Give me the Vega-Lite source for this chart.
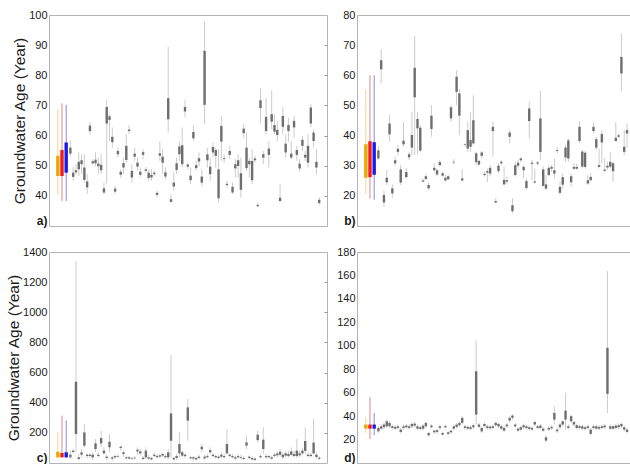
{
"$schema": "https://vega.github.io/schema/vega-lite/v6.json",
"padding": {"left": 6, "top": 8, "right": 0, "bottom": 0},
"background": "white",
"config": {
  "view": {"stroke": "#b4b4b4", "strokeWidth": 1},
  "axis": {"grid": false, "domain": false, "ticks": false, "labelOverlap": false, "labelBound": false, "labelFlush": false, "labelFont": "Liberation Sans", "labelFontSize": 11, "labelColor": "#1a1a1a", "labelPadding": 2, "titleFont": "Liberation Sans", "titleFontSize": 15.5, "titleFontWeight": "normal", "titleColor": "#1a1a1a", "titlePadding": 1}
},
"datasets": {
"a": [
{"i":-3.5,"lo":40.5,"q1":46.6,"q3":53.3,"hi":68.7,"g":"o"},
{"i":-2,"lo":38.3,"q1":46.6,"q3":55.2,"hi":70.7,"g":"r"},
{"i":-0.5,"lo":38.3,"q1":47.7,"q3":57.7,"hi":70.2,"g":"b"},
{"i":1,"lo":53,"q1":54,"q3":56,"hi":58.4,"g":"s"},
{"i":2,"lo":45,"q1":46.3,"q3":47.7,"hi":49.6,"g":"s"},
{"i":3,"lo":47.2,"q1":47.8,"q3":48.5,"hi":50.5,"g":"s"},
{"i":4,"lo":46.6,"q1":48.8,"q3":51.3,"hi":54.4,"g":"s"},
{"i":5,"lo":47.2,"q1":50.5,"q3":51.8,"hi":53.8,"g":"s"},
{"i":6,"lo":44.4,"q1":45.3,"q3":49.4,"hi":53.8,"g":"s"},
{"i":7,"lo":40.6,"q1":42.8,"q3":44.8,"hi":47.2,"g":"s"},
{"i":8,"lo":60.4,"q1":61.5,"q3":63.3,"hi":64.6,"g":"s"},
{"i":9,"lo":50.3,"q1":50.8,"q3":51.5,"hi":52.2,"g":"s"},
{"i":10,"lo":49.9,"q1":50.8,"q3":52,"hi":54.4,"g":"s"},
{"i":11,"lo":47.2,"q1":49.8,"q3":50.7,"hi":52.7,"g":"s"},
{"i":12,"lo":47.2,"q1":48.5,"q3":50.3,"hi":53.8,"g":"s"},
{"i":13,"lo":40.6,"q1":41.1,"q3":42.5,"hi":44.4,"g":"s"},
{"i":14,"lo":44,"q1":64,"q3":69.5,"hi":72,"g":"s"},
{"i":15,"lo":58.2,"q1":65.2,"q3":66.4,"hi":67.1,"g":"s"},
{"i":16,"lo":56,"q1":57.8,"q3":59.6,"hi":62.7,"g":"s"},
{"i":17,"lo":40.6,"q1":41.4,"q3":42.4,"hi":43.3,"g":"s"},
{"i":18,"lo":52.7,"q1":53.8,"q3":54.9,"hi":56,"g":"s"},
{"i":19,"lo":46.1,"q1":47,"q3":48,"hi":48.8,"g":"s"},
{"i":20,"lo":47.2,"q1":49.4,"q3":50.9,"hi":52.7,"g":"s"},
{"i":21,"lo":51,"q1":51.9,"q3":56.6,"hi":60.4,"g":"s"},
{"i":22,"lo":60.5,"q1":61.5,"q3":62,"hi":63.5,"g":"s"},
{"i":23,"lo":44.4,"q1":46.1,"q3":48.3,"hi":50.5,"g":"s"},
{"i":24,"lo":51.6,"q1":53,"q3":54,"hi":56,"g":"s"},
{"i":25,"lo":48.3,"q1":49.7,"q3":51,"hi":52.7,"g":"s"},
{"i":26,"lo":46.1,"q1":47,"q3":48,"hi":49.4,"g":"s"},
{"i":27,"lo":52.2,"q1":53.6,"q3":54.5,"hi":55.5,"g":"s"},
{"i":28,"lo":47.7,"q1":48.3,"q3":48.8,"hi":49.7,"g":"s"},
{"i":29,"lo":45,"q1":45.9,"q3":47.7,"hi":48.8,"g":"s"},
{"i":30,"lo":45,"q1":46.1,"q3":47,"hi":48.8,"g":"s"},
{"i":31,"lo":46.6,"q1":47.2,"q3":47.7,"hi":48.3,"g":"s"},
{"i":32,"lo":39.4,"q1":40.3,"q3":41,"hi":41.7,"g":"s"},
{"i":33,"lo":51.6,"q1":53.3,"q3":54.1,"hi":58.2,"g":"s"},
{"i":34,"lo":47.2,"q1":51,"q3":53,"hi":55.5,"g":"s"},
{"i":35,"lo":45.5,"q1":46.4,"q3":47.8,"hi":49.4,"g":"s"},
{"i":36,"lo":61,"q1":65.4,"q3":72.4,"hi":89.4,"g":"s"},
{"i":37,"lo":37.8,"q1":38,"q3":38.9,"hi":40.6,"g":"s"},
{"i":38,"lo":41.7,"q1":43.1,"q3":44.4,"hi":47.7,"g":"s"},
{"i":39,"lo":47.2,"q1":48.6,"q3":50.8,"hi":52.7,"g":"s"},
{"i":40,"lo":51.6,"q1":53.8,"q3":56.4,"hi":58.2,"g":"s"},
{"i":41,"lo":49.4,"q1":50.5,"q3":56.8,"hi":62.7,"g":"s"},
{"i":42,"lo":66,"q1":68,"q3":69.5,"hi":72,"g":"s"},
{"i":43,"lo":48.8,"q1":49.7,"q3":50.4,"hi":51,"g":"s"},
{"i":44,"lo":43.9,"q1":45.2,"q3":46.7,"hi":49.4,"g":"s"},
{"i":45,"lo":58.2,"q1":59.1,"q3":61.2,"hi":63.4,"g":"s"},
{"i":46,"lo":48.3,"q1":49.2,"q3":50.2,"hi":51.6,"g":"s"},
{"i":47,"lo":49.9,"q1":51.4,"q3":52.5,"hi":54.4,"g":"s"},
{"i":48,"lo":43.3,"q1":44.4,"q3":46.4,"hi":48.8,"g":"s"},
{"i":49,"lo":63.8,"q1":70.2,"q3":88.1,"hi":97.8,"g":"s"},
{"i":50,"lo":49.4,"q1":51.8,"q3":53.8,"hi":56,"g":"s"},
{"i":51,"lo":45,"q1":47.2,"q3":49.7,"hi":52.7,"g":"s"},
{"i":52,"lo":52.7,"q1":54.4,"q3":56.2,"hi":57.7,"g":"s"},
{"i":53,"lo":49.4,"q1":53.3,"q3":55.2,"hi":56,"g":"s"},
{"i":54,"lo":37.8,"q1":39.2,"q3":48.8,"hi":55.5,"g":"s"},
{"i":55,"lo":51.6,"q1":58,"q3":63.2,"hi":66.5,"g":"s"},
{"i":56,"lo":51,"q1":52.2,"q3":52.5,"hi":53.8,"g":"s"},
{"i":57,"lo":42.8,"q1":43.6,"q3":44,"hi":45,"g":"s"},
{"i":58,"lo":52.2,"q1":53.6,"q3":54.9,"hi":56.6,"g":"s"},
{"i":59,"lo":40.6,"q1":41.1,"q3":43,"hi":44.4,"g":"s"},
{"i":60,"lo":46.1,"q1":49.1,"q3":50.5,"hi":52.2,"g":"s"},
{"i":61,"lo":46.1,"q1":49.9,"q3":51.8,"hi":53.8,"g":"s"},
{"i":62,"lo":39.4,"q1":42,"q3":47.5,"hi":52.7,"g":"s"},
{"i":63,"lo":59.3,"q1":60.8,"q3":62.3,"hi":63.8,"g":"s"},
{"i":64,"lo":48.3,"q1":49.2,"q3":56,"hi":61,"g":"s"},
{"i":65,"lo":46.1,"q1":50.5,"q3":51.6,"hi":52.7,"g":"s"},
{"i":66,"lo":43.9,"q1":45.2,"q3":51.6,"hi":55.5,"g":"s"},
{"i":67,"lo":51,"q1":51.8,"q3":52.4,"hi":53.3,"g":"s"},
{"i":68,"lo":36.1,"q1":36.6,"q3":37,"hi":37.8,"g":"s"},
{"i":69,"lo":64,"q1":69.1,"q3":71.7,"hi":75.7,"g":"s"},
{"i":70,"lo":50.5,"q1":52.7,"q3":53.8,"hi":54.9,"g":"s"},
{"i":71,"lo":60.4,"q1":61.5,"q3":66.2,"hi":72.6,"g":"s"},
{"i":72,"lo":49.4,"q1":53.6,"q3":55.7,"hi":58.2,"g":"s"},
{"i":73,"lo":62.1,"q1":64.6,"q3":67.1,"hi":75,"g":"s"},
{"i":74,"lo":60.4,"q1":61.3,"q3":63.5,"hi":67.1,"g":"s"},
{"i":75,"lo":58.2,"q1":60.2,"q3":61.9,"hi":64.9,"g":"s"},
{"i":76,"lo":37.8,"q1":38.3,"q3":39.4,"hi":43.9,"g":"s"},
{"i":77,"lo":60.4,"q1":62.9,"q3":66.5,"hi":69.5,"g":"s"},
{"i":78,"lo":52.7,"q1":54.4,"q3":57.3,"hi":60.4,"g":"s"},
{"i":79,"lo":58,"q1":61.5,"q3":63.5,"hi":66,"g":"s"},
{"i":80,"lo":52.2,"q1":52.7,"q3":54,"hi":58.2,"g":"s"},
{"i":81,"lo":59.3,"q1":62.7,"q3":64.9,"hi":66.5,"g":"s"},
{"i":82,"lo":51.6,"q1":53.6,"q3":55.2,"hi":56.6,"g":"s"},
{"i":83,"lo":48.1,"q1":49.1,"q3":50.7,"hi":52.2,"g":"s"},
{"i":84,"lo":54.9,"q1":56.6,"q3":58.6,"hi":59.9,"g":"s"},
{"i":85,"lo":51.6,"q1":52.7,"q3":53.6,"hi":54.9,"g":"s"},
{"i":86,"lo":49.4,"q1":51,"q3":56.6,"hi":60.4,"g":"s"},
{"i":87,"lo":62.7,"q1":64,"q3":69.3,"hi":70.4,"g":"s"},
{"i":88,"lo":56,"q1":58.2,"q3":61,"hi":62.1,"g":"s"},
{"i":89,"lo":47,"q1":49.4,"q3":51.3,"hi":55.5,"g":"s"},
{"i":90,"lo":37,"q1":37.6,"q3":38.7,"hi":39.5,"g":"s"}
],
"b": [
{"i":-3.5,"lo":20.6,"q1":26,"q3":37.1,"hi":55.2,"g":"o"},
{"i":-2,"lo":19.1,"q1":26.2,"q3":38.1,"hi":60,"g":"r"},
{"i":-0.5,"lo":18.7,"q1":27,"q3":37.8,"hi":60,"g":"b"},
{"i":1,"lo":31.9,"q1":32.4,"q3":35.1,"hi":36.3,"g":"s"},
{"i":2,"lo":57.3,"q1":62,"q3":65,"hi":68.7,"g":"s"},
{"i":3,"lo":16.4,"q1":17.8,"q3":20.3,"hi":21.9,"g":"s"},
{"i":4,"lo":23.6,"q1":24.5,"q3":26,"hi":28.6,"g":"s"},
{"i":5,"lo":38,"q1":40.4,"q3":44,"hi":46.8,"g":"s"},
{"i":6,"lo":19.4,"q1":20.8,"q3":22.5,"hi":23.8,"g":"s"},
{"i":7,"lo":30,"q1":30.8,"q3":31.8,"hi":33,"g":"s"},
{"i":8,"lo":33.5,"q1":34.6,"q3":35.6,"hi":36.9,"g":"s"},
{"i":9,"lo":23.6,"q1":24.4,"q3":28.8,"hi":30.2,"g":"s"},
{"i":10,"lo":36.3,"q1":37.1,"q3":38.3,"hi":44.6,"g":"s"},
{"i":11,"lo":25.8,"q1":26.2,"q3":27.9,"hi":29.1,"g":"s"},
{"i":12,"lo":31.9,"q1":32.8,"q3":33.8,"hi":34.6,"g":"s"},
{"i":13,"lo":33.5,"q1":36,"q3":40.2,"hi":47.9,"g":"s"},
{"i":14,"lo":33.5,"q1":52.7,"q3":62.5,"hi":73.1,"g":"s"},
{"i":15,"lo":33.8,"q1":42.4,"q3":45.5,"hi":47.9,"g":"s"},
{"i":16,"lo":34.6,"q1":35,"q3":42.6,"hi":43.5,"g":"s"},
{"i":17,"lo":24.5,"q1":24.7,"q3":25.1,"hi":25.8,"g":"s"},
{"i":18,"lo":25.2,"q1":25.6,"q3":26.5,"hi":27.1,"g":"s"},
{"i":19,"lo":21.9,"q1":22.5,"q3":23.6,"hi":24.5,"g":"s"},
{"i":20,"lo":39.6,"q1":42.2,"q3":46.6,"hi":50.1,"g":"s"},
{"i":21,"lo":28,"q1":28.5,"q3":29.3,"hi":30.8,"g":"s"},
{"i":22,"lo":26.4,"q1":27.1,"q3":28.5,"hi":29.1,"g":"s"},
{"i":23,"lo":29.7,"q1":30.2,"q3":31.2,"hi":31.9,"g":"s"},
{"i":24,"lo":26.4,"q1":26.7,"q3":27.5,"hi":28,"g":"s"},
{"i":25,"lo":24.7,"q1":25.1,"q3":26,"hi":26.9,"g":"s"},
{"i":26,"lo":25.2,"q1":25.5,"q3":26.5,"hi":26.9,"g":"s"},
{"i":27,"lo":44.6,"q1":45.7,"q3":49.4,"hi":50.1,"g":"s"},
{"i":28,"lo":30.4,"q1":31.1,"q3":31.3,"hi":32.2,"g":"s"},
{"i":29,"lo":50.1,"q1":54.5,"q3":59.5,"hi":61.7,"g":"s"},
{"i":30,"lo":40.2,"q1":46.6,"q3":54,"hi":55.5,"g":"s"},
{"i":31,"lo":24.7,"q1":25.1,"q3":25.8,"hi":28.9,"g":"s"},
{"i":32,"lo":36.3,"q1":36.9,"q3":37.1,"hi":37.4,"g":"s"},
{"i":33,"lo":34.6,"q1":35.7,"q3":41.8,"hi":44.6,"g":"s"},
{"i":34,"lo":34.6,"q1":36.3,"q3":38.5,"hi":47.9,"g":"s"},
{"i":35,"lo":36.9,"q1":37.4,"q3":45.1,"hi":53.4,"g":"s"},
{"i":36,"lo":30.2,"q1":31.2,"q3":34.1,"hi":34.6,"g":"s"},
{"i":37,"lo":30,"q1":30.4,"q3":31.6,"hi":31.9,"g":"s"},
{"i":38,"lo":32.4,"q1":33.3,"q3":34.4,"hi":34.9,"g":"s"},
{"i":39,"lo":26.4,"q1":26.9,"q3":27.3,"hi":28,"g":"s"},
{"i":40,"lo":24.5,"q1":27.7,"q3":28.2,"hi":29.1,"g":"s"},
{"i":41,"lo":26.4,"q1":27.4,"q3":29.3,"hi":30.2,"g":"s"},
{"i":42,"lo":33,"q1":41.5,"q3":42.9,"hi":44.6,"g":"s"},
{"i":43,"lo":17.5,"q1":17.8,"q3":18.3,"hi":19.2,"g":"s"},
{"i":44,"lo":27.5,"q1":28.2,"q3":30,"hi":30.8,"g":"s"},
{"i":45,"lo":30.2,"q1":30.8,"q3":31.3,"hi":31.9,"g":"s"},
{"i":46,"lo":23.6,"q1":23.8,"q3":25.3,"hi":29.7,"g":"s"},
{"i":47,"lo":24.1,"q1":24.7,"q3":25.2,"hi":26.4,"g":"s"},
{"i":48,"lo":37.4,"q1":39.6,"q3":41,"hi":41.8,"g":"s"},
{"i":49,"lo":14.2,"q1":14.9,"q3":16.9,"hi":19.2,"g":"s"},
{"i":50,"lo":26.4,"q1":26.9,"q3":30.2,"hi":31.3,"g":"s"},
{"i":51,"lo":29.1,"q1":30,"q3":31,"hi":31.9,"g":"s"},
{"i":52,"lo":31.1,"q1":31.8,"q3":32.4,"hi":33,"g":"s"},
{"i":53,"lo":25.8,"q1":28.5,"q3":29.6,"hi":30.2,"g":"s"},
{"i":54,"lo":21.9,"q1":22.6,"q3":24.9,"hi":25.8,"g":"s"},
{"i":55,"lo":39.1,"q1":44.8,"q3":49,"hi":51.2,"g":"s"},
{"i":56,"lo":25.2,"q1":30.6,"q3":31,"hi":31.9,"g":"s"},
{"i":57,"lo":24.1,"q1":24.4,"q3":24.8,"hi":29.1,"g":"s"},
{"i":58,"lo":30.2,"q1":30.7,"q3":31.1,"hi":31.5,"g":"s"},
{"i":59,"lo":31.9,"q1":34.6,"q3":45.7,"hi":54.8,"g":"s"},
{"i":60,"lo":23,"q1":23.3,"q3":28.8,"hi":29.7,"g":"s"},
{"i":61,"lo":21.9,"q1":22.4,"q3":23.8,"hi":26.9,"g":"s"},
{"i":62,"lo":26.4,"q1":26.9,"q3":29.3,"hi":30.2,"g":"s"},
{"i":63,"lo":28,"q1":29,"q3":29.6,"hi":30.2,"g":"s"},
{"i":64,"lo":25.8,"q1":27.4,"q3":28.5,"hi":32.4,"g":"s"},
{"i":65,"lo":34.1,"q1":34.9,"q3":35.2,"hi":36.3,"g":"s"},
{"i":66,"lo":20.3,"q1":21,"q3":23,"hi":24.7,"g":"s"},
{"i":67,"lo":22.5,"q1":23.7,"q3":26.2,"hi":27.5,"g":"s"},
{"i":68,"lo":31.3,"q1":32.7,"q3":36,"hi":36.9,"g":"s"},
{"i":69,"lo":31.3,"q1":32.4,"q3":38.4,"hi":39.1,"g":"s"},
{"i":70,"lo":23,"q1":24.5,"q3":26.5,"hi":27.5,"g":"s"},
{"i":71,"lo":28.6,"q1":29,"q3":29.6,"hi":30.8,"g":"s"},
{"i":72,"lo":28.6,"q1":29,"q3":29.6,"hi":30.8,"g":"s"},
{"i":73,"lo":37.4,"q1":38.2,"q3":42.9,"hi":44.8,"g":"s"},
{"i":74,"lo":29.1,"q1":29.7,"q3":34.7,"hi":35.2,"g":"s"},
{"i":75,"lo":29.1,"q1":29.6,"q3":34.3,"hi":34.9,"g":"s"},
{"i":76,"lo":23.6,"q1":24.1,"q3":25.2,"hi":26.9,"g":"s"},
{"i":77,"lo":24.7,"q1":25.2,"q3":26.3,"hi":27.5,"g":"s"},
{"i":78,"lo":40.7,"q1":41.5,"q3":42.9,"hi":44.4,"g":"s"},
{"i":79,"lo":35.2,"q1":36,"q3":38.8,"hi":39.6,"g":"s"},
{"i":80,"lo":29.1,"q1":29.6,"q3":30.2,"hi":35.7,"g":"s"},
{"i":81,"lo":30.8,"q1":37.7,"q3":40.5,"hi":41.8,"g":"s"},
{"i":82,"lo":28,"q1":28.3,"q3":28.7,"hi":32.4,"g":"s"},
{"i":83,"lo":28.6,"q1":29.4,"q3":30,"hi":31.3,"g":"s"},
{"i":84,"lo":29.1,"q1":29.7,"q3":31.3,"hi":34.6,"g":"s"},
{"i":85,"lo":24.7,"q1":28.2,"q3":30.8,"hi":31.3,"g":"s"},
{"i":86,"lo":38,"q1":38.2,"q3":39.3,"hi":44.6,"g":"s"},
{"i":87,"lo":39.1,"q1":39.6,"q3":40.1,"hi":40.7,"g":"s"},
{"i":88,"lo":54.8,"q1":60.6,"q3":66.1,"hi":73.9,"g":"s"},
{"i":89,"lo":33.5,"q1":34.6,"q3":36.3,"hi":41.8,"g":"s"},
{"i":90,"lo":36,"q1":40.7,"q3":41.8,"hi":44,"g":"s"}
],
"c": [
{"i":-3.5,"lo":30,"q1":37.6,"q3":75,"hi":203,"g":"o"},
{"i":-2,"lo":33,"q1":37.6,"q3":66,"hi":314,"g":"r"},
{"i":-0.5,"lo":33,"q1":37.6,"q3":71,"hi":283,"g":"b"},
{"i":1,"lo":26.5,"q1":37.6,"q3":55.3,"hi":81.8,"g":"s"},
{"i":2,"lo":64,"q1":73,"q3":82,"hi":93,"g":"s"},
{"i":3,"lo":71,"q1":192,"q3":539,"hi":1341,"g":"s"},
{"i":4,"lo":15.5,"q1":26.5,"q3":37.6,"hi":59.7,"g":"s"},
{"i":5,"lo":37.6,"q1":55.3,"q3":70.7,"hi":92.8,"g":"s"},
{"i":6,"lo":104,"q1":115,"q3":203,"hi":259,"g":"s"},
{"i":7,"lo":33.2,"q1":46.4,"q3":55.3,"hi":64.1,"g":"s"},
{"i":8,"lo":35,"q1":46,"q3":55,"hi":64,"g":"s"},
{"i":9,"lo":19.9,"q1":37.6,"q3":55.3,"hi":70.7,"g":"s"},
{"i":10,"lo":71,"q1":93,"q3":130,"hi":159,"g":"s"},
{"i":11,"lo":40,"q1":46,"q3":55,"hi":70,"g":"s"},
{"i":12,"lo":104,"q1":130,"q3":166,"hi":214,"g":"s"},
{"i":13,"lo":55,"q1":64,"q3":82,"hi":104,"g":"s"},
{"i":14,"lo":20,"q1":33,"q3":42,"hi":55,"g":"s"},
{"i":15,"lo":71,"q1":104,"q3":141,"hi":192,"g":"s"},
{"i":16,"lo":15.5,"q1":28.7,"q3":37.6,"hi":46.4,"g":"s"},
{"i":17,"lo":28.7,"q1":37.6,"q3":46.4,"hi":55.3,"g":"s"},
{"i":18,"lo":33,"q1":42,"q3":46,"hi":60,"g":"s"},
{"i":19,"lo":82,"q1":99.5,"q3":108.3,"hi":115,"g":"s"},
{"i":20,"lo":42,"q1":60,"q3":71,"hi":82,"g":"s"},
{"i":21,"lo":24,"q1":31,"q3":38,"hi":46,"g":"s"},
{"i":22,"lo":24,"q1":29,"q3":38,"hi":46,"g":"s"},
{"i":23,"lo":20,"q1":29,"q3":33,"hi":42,"g":"s"},
{"i":24,"lo":24,"q1":31,"q3":35,"hi":46,"g":"s"},
{"i":25,"lo":55,"q1":77,"q3":88,"hi":104,"g":"s"},
{"i":26,"lo":49,"q1":64,"q3":77,"hi":93,"g":"s"},
{"i":27,"lo":20,"q1":26.5,"q3":35,"hi":46,"g":"s"},
{"i":28,"lo":26.5,"q1":37.6,"q3":81.8,"hi":104,"g":"s"},
{"i":29,"lo":20,"q1":29,"q3":38,"hi":55,"g":"s"},
{"i":30,"lo":15.5,"q1":24,"q3":33,"hi":42,"g":"s"},
{"i":31,"lo":40,"q1":46,"q3":55,"hi":70,"g":"s"},
{"i":32,"lo":29,"q1":38,"q3":46,"hi":60,"g":"s"},
{"i":33,"lo":33,"q1":42,"q3":51,"hi":64,"g":"s"},
{"i":34,"lo":37.6,"q1":49,"q3":60,"hi":70,"g":"s"},
{"i":35,"lo":29,"q1":38,"q3":46,"hi":60,"g":"s"},
{"i":36,"lo":26.5,"q1":37.6,"q3":70.7,"hi":92.8,"g":"s"},
{"i":37,"lo":38,"q1":148,"q3":329,"hi":716,"g":"s"},
{"i":38,"lo":15.5,"q1":24,"q3":33,"hi":42,"g":"s"},
{"i":39,"lo":20,"q1":33,"q3":46,"hi":60,"g":"s"},
{"i":40,"lo":38,"q1":64,"q3":126,"hi":203,"g":"s"},
{"i":41,"lo":38,"q1":49,"q3":71,"hi":82,"g":"s"},
{"i":42,"lo":33,"q1":46,"q3":55,"hi":64,"g":"s"},
{"i":43,"lo":148,"q1":281,"q3":369,"hi":424,"g":"s"},
{"i":44,"lo":24,"q1":31,"q3":38,"hi":46,"g":"s"},
{"i":45,"lo":20,"q1":29,"q3":38,"hi":46,"g":"s"},
{"i":46,"lo":15.5,"q1":24,"q3":33,"hi":42,"g":"s"},
{"i":47,"lo":24,"q1":33,"q3":42,"hi":55,"g":"s"},
{"i":48,"lo":71,"q1":91,"q3":108,"hi":126,"g":"s"},
{"i":49,"lo":22,"q1":31,"q3":42,"hi":55,"g":"s"},
{"i":50,"lo":29,"q1":38,"q3":46,"hi":60,"g":"s"},
{"i":51,"lo":60,"q1":71,"q3":86,"hi":104,"g":"s"},
{"i":52,"lo":37.6,"q1":46,"q3":55,"hi":64,"g":"s"},
{"i":53,"lo":29,"q1":38,"q3":46,"hi":55,"g":"s"},
{"i":54,"lo":24,"q1":33,"q3":42,"hi":51,"g":"s"},
{"i":55,"lo":33,"q1":42,"q3":55,"hi":70,"g":"s"},
{"i":56,"lo":29,"q1":38,"q3":46,"hi":60,"g":"s"},
{"i":57,"lo":55,"q1":64,"q3":126,"hi":225,"g":"s"},
{"i":58,"lo":37.6,"q1":46,"q3":55,"hi":64,"g":"s"},
{"i":59,"lo":29,"q1":38,"q3":46,"hi":60,"g":"s"},
{"i":60,"lo":20,"q1":29,"q3":38,"hi":51,"g":"s"},
{"i":61,"lo":29,"q1":38,"q3":46,"hi":60,"g":"s"},
{"i":62,"lo":24,"q1":33,"q3":38,"hi":55,"g":"s"},
{"i":63,"lo":20,"q1":26.5,"q3":33,"hi":46,"g":"s"},
{"i":64,"lo":93,"q1":115,"q3":137,"hi":181,"g":"s"},
{"i":65,"lo":24,"q1":33,"q3":42,"hi":51,"g":"s"},
{"i":66,"lo":15.5,"q1":24,"q3":33,"hi":42,"g":"s"},
{"i":67,"lo":15.5,"q1":20,"q3":29,"hi":37.6,"g":"s"},
{"i":68,"lo":137,"q1":152,"q3":188,"hi":214,"g":"s"},
{"i":69,"lo":29,"q1":38,"q3":46,"hi":60,"g":"s"},
{"i":70,"lo":64,"q1":93,"q3":155,"hi":236,"g":"s"},
{"i":71,"lo":29,"q1":38,"q3":46,"hi":60,"g":"s"},
{"i":72,"lo":29,"q1":38,"q3":46,"hi":55,"g":"s"},
{"i":73,"lo":20,"q1":29,"q3":38,"hi":46,"g":"s"},
{"i":74,"lo":37.6,"q1":46,"q3":55,"hi":68,"g":"s"},
{"i":75,"lo":37.6,"q1":51,"q3":64,"hi":77,"g":"s"},
{"i":76,"lo":42,"q1":55,"q3":75,"hi":93,"g":"s"},
{"i":77,"lo":29,"q1":38,"q3":55,"hi":70,"g":"s"},
{"i":78,"lo":37.6,"q1":49,"q3":64,"hi":82,"g":"s"},
{"i":79,"lo":37.6,"q1":46,"q3":60,"hi":82,"g":"s"},
{"i":80,"lo":42,"q1":55,"q3":77,"hi":104,"g":"s"},
{"i":81,"lo":37.6,"q1":46,"q3":60,"hi":82,"g":"s"},
{"i":82,"lo":33,"q1":46,"q3":82,"hi":160,"g":"s"},
{"i":83,"lo":37.6,"q1":51,"q3":64,"hi":82,"g":"s"},
{"i":84,"lo":51,"q1":64,"q3":82,"hi":104,"g":"s"},
{"i":85,"lo":60,"q1":80,"q3":146,"hi":236,"g":"s"},
{"i":86,"lo":37.6,"q1":46,"q3":55,"hi":70,"g":"s"},
{"i":87,"lo":37.6,"q1":46,"q3":55,"hi":70,"g":"s"},
{"i":88,"lo":55,"q1":64,"q3":135,"hi":292,"g":"s"},
{"i":89,"lo":30,"q1":40,"q3":55,"hi":70,"g":"s"},
{"i":90,"lo":20,"q1":28,"q3":35,"hi":45,"g":"s"}
],
"d": [
{"i":-3.5,"lo":25.6,"q1":29.3,"q3":32.8,"hi":39,"g":"o"},
{"i":-2,"lo":20.5,"q1":29.3,"q3":32.8,"hi":56.4,"g":"r"},
{"i":-0.5,"lo":23.6,"q1":29.3,"q3":32.8,"hi":42.7,"g":"b"},
{"i":1,"lo":25.6,"q1":27,"q3":29.9,"hi":31.3,"g":"s"},
{"i":2,"lo":28,"q1":29.3,"q3":31.3,"hi":33,"g":"s"},
{"i":3,"lo":29,"q1":30.5,"q3":32.8,"hi":34.5,"g":"s"},
{"i":4,"lo":29.9,"q1":31.3,"q3":35.6,"hi":37,"g":"s"},
{"i":5,"lo":29.9,"q1":31.3,"q3":34.2,"hi":35.6,"g":"s"},
{"i":6,"lo":28.5,"q1":29.9,"q3":31.3,"hi":32.8,"g":"s"},
{"i":7,"lo":28,"q1":29.3,"q3":30.8,"hi":32.2,"g":"s"},
{"i":8,"lo":28.5,"q1":29.9,"q3":31.3,"hi":32.8,"g":"s"},
{"i":9,"lo":25.2,"q1":26.5,"q3":28.5,"hi":29.9,"g":"s"},
{"i":10,"lo":28.5,"q1":29.9,"q3":31.3,"hi":32.8,"g":"s"},
{"i":11,"lo":29,"q1":30.5,"q3":31.9,"hi":33.3,"g":"s"},
{"i":12,"lo":28.5,"q1":29.9,"q3":31.3,"hi":32.8,"g":"s"},
{"i":13,"lo":29.9,"q1":31.3,"q3":33.3,"hi":34.5,"g":"s"},
{"i":14,"lo":30.5,"q1":31.9,"q3":33.6,"hi":35,"g":"s"},
{"i":15,"lo":28,"q1":29.3,"q3":31.3,"hi":32.8,"g":"s"},
{"i":16,"lo":27.6,"q1":29.1,"q3":30.5,"hi":31.9,"g":"s"},
{"i":17,"lo":27.6,"q1":29.3,"q3":31.9,"hi":33.3,"g":"s"},
{"i":18,"lo":29.9,"q1":31.3,"q3":34.2,"hi":35.6,"g":"s"},
{"i":19,"lo":22.5,"q1":23.6,"q3":25.6,"hi":26.5,"g":"s"},
{"i":20,"lo":29.3,"q1":30.5,"q3":31.9,"hi":33.3,"g":"s"},
{"i":21,"lo":25,"q1":26.2,"q3":27.6,"hi":28.5,"g":"s"},
{"i":22,"lo":25,"q1":26.5,"q3":28,"hi":29.3,"g":"s"},
{"i":23,"lo":28.5,"q1":29.9,"q3":31.3,"hi":32.5,"g":"s"},
{"i":24,"lo":23.3,"q1":24.2,"q3":25.6,"hi":26.5,"g":"s"},
{"i":25,"lo":29.3,"q1":30.5,"q3":31.6,"hi":32.8,"g":"s"},
{"i":26,"lo":23.6,"q1":24.8,"q3":26.2,"hi":27.1,"g":"s"},
{"i":27,"lo":25,"q1":26.2,"q3":27.6,"hi":28.5,"g":"s"},
{"i":28,"lo":28,"q1":29.3,"q3":31.3,"hi":32.8,"g":"s"},
{"i":29,"lo":29.5,"q1":30.8,"q3":32.8,"hi":34.2,"g":"s"},
{"i":30,"lo":31,"q1":32.2,"q3":34.2,"hi":35.6,"g":"s"},
{"i":31,"lo":32.8,"q1":34.2,"q3":38.5,"hi":39.9,"g":"s"},
{"i":32,"lo":28.5,"q1":29.9,"q3":31.3,"hi":32.8,"g":"s"},
{"i":33,"lo":28,"q1":29.3,"q3":30.8,"hi":32.2,"g":"s"},
{"i":34,"lo":27.6,"q1":29.1,"q3":30.5,"hi":31.9,"g":"s"},
{"i":35,"lo":29,"q1":30.5,"q3":32.2,"hi":33.6,"g":"s"},
{"i":36,"lo":32.8,"q1":41.3,"q3":78.3,"hi":104.6,"g":"s"},
{"i":37,"lo":29.5,"q1":30.8,"q3":32.8,"hi":34.2,"g":"s"},
{"i":38,"lo":25.6,"q1":27,"q3":29.9,"hi":31.3,"g":"s"},
{"i":39,"lo":30.2,"q1":31.6,"q3":33.3,"hi":34.5,"g":"s"},
{"i":40,"lo":28.5,"q1":29.9,"q3":31.3,"hi":32.8,"g":"s"},
{"i":41,"lo":28.2,"q1":29.6,"q3":31,"hi":32.4,"g":"s"},
{"i":42,"lo":28.5,"q1":29.9,"q3":31.3,"hi":32.8,"g":"s"},
{"i":43,"lo":30.8,"q1":32.2,"q3":34.2,"hi":35.6,"g":"s"},
{"i":44,"lo":29.9,"q1":31.3,"q3":33.3,"hi":34.5,"g":"s"},
{"i":45,"lo":28,"q1":29.3,"q3":31.3,"hi":32.8,"g":"s"},
{"i":46,"lo":26.5,"q1":27.6,"q3":29.9,"hi":31.3,"g":"s"},
{"i":47,"lo":29.9,"q1":31.3,"q3":32.8,"hi":34.2,"g":"s"},
{"i":48,"lo":34.5,"q1":36.2,"q3":38.5,"hi":39.9,"g":"s"},
{"i":49,"lo":37,"q1":38.5,"q3":40.5,"hi":41.5,"g":"s"},
{"i":50,"lo":29.9,"q1":31.3,"q3":32.8,"hi":34.2,"g":"s"},
{"i":51,"lo":26.5,"q1":27.6,"q3":29.3,"hi":30.5,"g":"s"},
{"i":52,"lo":27.1,"q1":28.5,"q3":30.5,"hi":31.9,"g":"s"},
{"i":53,"lo":29,"q1":30.5,"q3":32.2,"hi":33.6,"g":"s"},
{"i":54,"lo":28.5,"q1":29.9,"q3":31.3,"hi":32.8,"g":"s"},
{"i":55,"lo":27.6,"q1":29.1,"q3":30.5,"hi":31.9,"g":"s"},
{"i":56,"lo":27.1,"q1":28.5,"q3":29.9,"hi":31.3,"g":"s"},
{"i":57,"lo":31.3,"q1":32.8,"q3":35,"hi":36.2,"g":"s"},
{"i":58,"lo":28.5,"q1":29.9,"q3":31.3,"hi":32.8,"g":"s"},
{"i":59,"lo":28.5,"q1":29.9,"q3":31.9,"hi":33.3,"g":"s"},
{"i":60,"lo":26.5,"q1":27.6,"q3":29.3,"hi":30.5,"g":"s"},
{"i":61,"lo":18,"q1":19.1,"q3":21.9,"hi":23.6,"g":"s"},
{"i":62,"lo":27.1,"q1":28.5,"q3":29.9,"hi":31.3,"g":"s"},
{"i":63,"lo":28.2,"q1":29.6,"q3":30.8,"hi":32.2,"g":"s"},
{"i":64,"lo":33,"q1":37,"q3":42.7,"hi":48.4,"g":"s"},
{"i":65,"lo":25.6,"q1":27.1,"q3":28.5,"hi":29.9,"g":"s"},
{"i":66,"lo":29,"q1":30.5,"q3":32.8,"hi":34.2,"g":"s"},
{"i":67,"lo":31.3,"q1":32.8,"q3":35.6,"hi":37,"g":"s"},
{"i":68,"lo":28.5,"q1":37,"q3":44.7,"hi":59.8,"g":"s"},
{"i":69,"lo":28.5,"q1":29.9,"q3":31.3,"hi":32.8,"g":"s"},
{"i":70,"lo":34.2,"q1":35.6,"q3":39.9,"hi":41.3,"g":"s"},
{"i":71,"lo":31.3,"q1":32.8,"q3":35,"hi":36.2,"g":"s"},
{"i":72,"lo":28.5,"q1":29.9,"q3":32.2,"hi":33.6,"g":"s"},
{"i":73,"lo":28.5,"q1":29.9,"q3":31.3,"hi":32.8,"g":"s"},
{"i":74,"lo":28,"q1":29.3,"q3":31.3,"hi":32.8,"g":"s"},
{"i":75,"lo":27.6,"q1":29.1,"q3":30.5,"hi":31.9,"g":"s"},
{"i":76,"lo":28.5,"q1":29.9,"q3":31.3,"hi":32.8,"g":"s"},
{"i":77,"lo":23.6,"q1":24.8,"q3":28.5,"hi":29.9,"g":"s"},
{"i":78,"lo":28.5,"q1":29.9,"q3":31.3,"hi":32.8,"g":"s"},
{"i":79,"lo":28,"q1":29.3,"q3":31.3,"hi":32.8,"g":"s"},
{"i":80,"lo":28,"q1":29.3,"q3":30.8,"hi":32.2,"g":"s"},
{"i":81,"lo":28.5,"q1":29.9,"q3":31.3,"hi":32.8,"g":"s"},
{"i":82,"lo":29,"q1":30.5,"q3":31.9,"hi":33.3,"g":"s"},
{"i":83,"lo":42.7,"q1":59,"q3":98.3,"hi":163.8,"g":"s"},
{"i":84,"lo":28,"q1":29.3,"q3":31.3,"hi":32.8,"g":"s"},
{"i":85,"lo":28,"q1":29.3,"q3":31.3,"hi":32.8,"g":"s"},
{"i":86,"lo":28.5,"q1":29.9,"q3":31.9,"hi":33.3,"g":"s"},
{"i":87,"lo":29,"q1":30.5,"q3":32.2,"hi":33.6,"g":"s"},
{"i":88,"lo":29.9,"q1":31.3,"q3":33.3,"hi":34.5,"g":"s"},
{"i":89,"lo":27.1,"q1":28.5,"q3":30.5,"hi":31.9,"g":"s"},
{"i":90,"lo":25.2,"q1":26.5,"q3":28.5,"hi":29.9,"g":"s"}
]
},
"columns": 2,
"spacing": {"row": 18, "column": 8},
"concat": [
{
 "width": 278, "height": 211,
 "data": {"name": "a"},
 "layer": [
  {"mark": {"type": "rule", "strokeWidth": 1},
   "encoding": {
    "x": {"field": "i", "type": "quantitative", "scale": {"domain": [-4.86, 91], "nice": false, "zero": false}, "axis": null},
    "y": {"field": "lo", "type": "quantitative", "scale": {"domain": [30, 100], "nice": false, "zero": false},
          "axis": {"values": [31.9,40,50,60,70,80,90,100], "format": "d", "title": "Groundwater Age (Year)", "labelOverlap": false,
                   "labelExpr": "datum.value < 35 ? 'a)' : datum.label",
                   "labelFontWeight": {"condition": {"test": "datum.value < 35", "value": "bold"}, "value": "normal"},
                   "labelFontSize": {"condition": {"test": "datum.value < 35", "value": 12}, "value": 11}}},
    "y2": {"field": "hi"},
    "color": {"field": "g", "type": "nominal", "scale": {"domain": ["o","r","b","s"], "range": ["#f6d48c","#d98a8a","#8c8ce0","#cccccc"]}, "legend": null}
   }},
  {"transform": [{"filter": "datum.g == 's'"}],
   "mark": {"type": "bar", "size": 2.4, "color": "#6e6e6e"},
   "encoding": {
    "x": {"field": "i", "type": "quantitative", "axis": null},
    "y": {"field": "q1", "type": "quantitative", "axis": {"orient": "right", "labels": false, "ticks": true, "tickSize": -3, "tickColor": "#9a9a9a", "values": [40,50,60,70,80,90], "title": null}},
    "y2": {"field": "q3"}
   }},
  {"transform": [{"filter": "datum.g != 's'"}],
   "mark": {"type": "bar", "size": 3.4},
   "encoding": {
    "x": {"field": "i", "type": "quantitative", "axis": null},
    "y": {"field": "q1", "type": "quantitative", "axis": null},
    "y2": {"field": "q3"},
    "color": {"field": "g", "type": "nominal", "scale": {"domain": ["o","r","b"], "range": ["#f5a500","#ee1c1c","#1a1ae6"]}, "legend": null}
   }}
 ],
 "resolve": {"scale": {"color": "independent"}, "axis": {"y": "independent"}}
},
{
 "width": 275, "height": 211,
 "data": {"name": "b"},
 "view": {"stroke": null},
 "layer": [
  {"mark": {"type": "rule", "strokeWidth": 1, "clip": true},
   "encoding": {
    "x": {"field": "i", "type": "quantitative", "scale": {"domain": [-4.86, 90], "nice": false, "zero": false},
          "axis": {"orient": "bottom", "domain": true, "domainColor": "#b4b4b4", "labels": false, "ticks": false, "title": null}},
    "y": {"field": "lo", "type": "quantitative", "scale": {"domain": [10, 80], "nice": false, "zero": false},
          "axis": {"values": [11.9,20,30,40,50,60,70,80], "format": "d", "title": null, "labelOverlap": false, "domain": true, "domainColor": "#b4b4b4",
                   "labelExpr": "datum.value < 15 ? 'b)' : datum.label",
                   "labelFontWeight": {"condition": {"test": "datum.value < 15", "value": "bold"}, "value": "normal"},
                   "labelFontSize": {"condition": {"test": "datum.value < 15", "value": 12}, "value": 11}}},
    "y2": {"field": "hi"},
    "color": {"field": "g", "type": "nominal", "scale": {"domain": ["o","r","b","s"], "range": ["#f6d48c","#d98a8a","#8c8ce0","#cccccc"]}, "legend": null}
   }},
  {"transform": [{"filter": "datum.g == 's'"}],
   "mark": {"type": "bar", "size": 2.4, "color": "#6e6e6e", "clip": true},
   "encoding": {
    "x": {"field": "i", "type": "quantitative", "axis": {"orient": "top", "domain": true, "domainColor": "#b4b4b4", "labels": false, "ticks": false, "title": null}},
    "y": {"field": "q1", "type": "quantitative", "axis": null},
    "y2": {"field": "q3"}
   }},
  {"transform": [{"filter": "datum.g != 's'"}],
   "mark": {"type": "bar", "size": 3.4},
   "encoding": {
    "x": {"field": "i", "type": "quantitative", "axis": null},
    "y": {"field": "q1", "type": "quantitative", "axis": null},
    "y2": {"field": "q3"},
    "color": {"field": "g", "type": "nominal", "scale": {"domain": ["o","r","b"], "range": ["#f5a500","#ee1c1c","#1a1ae6"]}, "legend": null}
   }}
 ],
 "resolve": {"scale": {"color": "independent"}, "axis": {"y": "independent", "x": "independent"}}
},
{
 "width": 278, "height": 211,
 "data": {"name": "c"},
 "layer": [
  {"mark": {"type": "rule", "strokeWidth": 1},
   "encoding": {
    "x": {"field": "i", "type": "quantitative", "scale": {"domain": [-4.86, 91], "nice": false, "zero": false}, "axis": null},
    "y": {"field": "lo", "type": "quantitative", "scale": {"domain": [0, 1400], "nice": false, "zero": false},
          "axis": {"values": [38,200,400,600,800,1000,1200,1400], "format": "d", "title": "Groundwater Age (Year)", "labelOverlap": false,
                   "labelExpr": "datum.value < 100 ? 'c)' : datum.label",
                   "labelFontWeight": {"condition": {"test": "datum.value < 100", "value": "bold"}, "value": "normal"},
                   "labelFontSize": {"condition": {"test": "datum.value < 100", "value": 12}, "value": 11}}},
    "y2": {"field": "hi"},
    "color": {"field": "g", "type": "nominal", "scale": {"domain": ["o","r","b","s"], "range": ["#f6d48c","#d98a8a","#8c8ce0","#cccccc"]}, "legend": null}
   }},
  {"transform": [{"filter": "datum.g == 's'"}],
   "mark": {"type": "bar", "size": 2.4, "color": "#6e6e6e"},
   "encoding": {
    "x": {"field": "i", "type": "quantitative", "axis": null},
    "y": {"field": "q1", "type": "quantitative", "axis": {"orient": "right", "labels": false, "ticks": true, "tickSize": -3, "tickColor": "#9a9a9a", "values": [200,400,600,800,1000,1200], "title": null}},
    "y2": {"field": "q3"}
   }},
  {"transform": [{"filter": "datum.g != 's'"}],
   "mark": {"type": "bar", "size": 3.4},
   "encoding": {
    "x": {"field": "i", "type": "quantitative", "axis": null},
    "y": {"field": "q1", "type": "quantitative", "axis": null},
    "y2": {"field": "q3"},
    "color": {"field": "g", "type": "nominal", "scale": {"domain": ["o","r","b"], "range": ["#f5a500","#ee1c1c","#1a1ae6"]}, "legend": null}
   }}
 ],
 "resolve": {"scale": {"color": "independent"}, "axis": {"y": "independent"}}
},
{
 "width": 275, "height": 211,
 "data": {"name": "d"},
 "view": {"stroke": null},
 "layer": [
  {"mark": {"type": "rule", "strokeWidth": 1, "clip": true},
   "encoding": {
    "x": {"field": "i", "type": "quantitative", "scale": {"domain": [-4.86, 90], "nice": false, "zero": false},
          "axis": {"orient": "bottom", "domain": true, "domainColor": "#b4b4b4", "labels": false, "ticks": false, "title": null}},
    "y": {"field": "lo", "type": "quantitative", "scale": {"domain": [0, 180], "nice": false, "zero": false},
          "axis": {"values": [4.9,20,40,60,80,100,120,140,160,180], "format": "d", "title": null, "labelOverlap": false, "domain": true, "domainColor": "#b4b4b4",
                   "labelExpr": "datum.value < 10 ? 'd)' : datum.label",
                   "labelFontWeight": {"condition": {"test": "datum.value < 10", "value": "bold"}, "value": "normal"},
                   "labelFontSize": {"condition": {"test": "datum.value < 10", "value": 12}, "value": 11}}},
    "y2": {"field": "hi"},
    "color": {"field": "g", "type": "nominal", "scale": {"domain": ["o","r","b","s"], "range": ["#f6d48c","#d98a8a","#8c8ce0","#cccccc"]}, "legend": null}
   }},
  {"transform": [{"filter": "datum.g == 's'"}],
   "mark": {"type": "bar", "size": 2.4, "color": "#6e6e6e", "clip": true},
   "encoding": {
    "x": {"field": "i", "type": "quantitative", "axis": {"orient": "top", "domain": true, "domainColor": "#b4b4b4", "labels": false, "ticks": false, "title": null}},
    "y": {"field": "q1", "type": "quantitative", "axis": null},
    "y2": {"field": "q3"}
   }},
  {"transform": [{"filter": "datum.g != 's'"}],
   "mark": {"type": "bar", "size": 3.4},
   "encoding": {
    "x": {"field": "i", "type": "quantitative", "axis": null},
    "y": {"field": "q1", "type": "quantitative", "axis": null},
    "y2": {"field": "q3"},
    "color": {"field": "g", "type": "nominal", "scale": {"domain": ["o","r","b"], "range": ["#f5a500","#ee1c1c","#1a1ae6"]}, "legend": null}
   }}
 ],
 "resolve": {"scale": {"color": "independent"}, "axis": {"y": "independent", "x": "independent"}}
}
]
}
